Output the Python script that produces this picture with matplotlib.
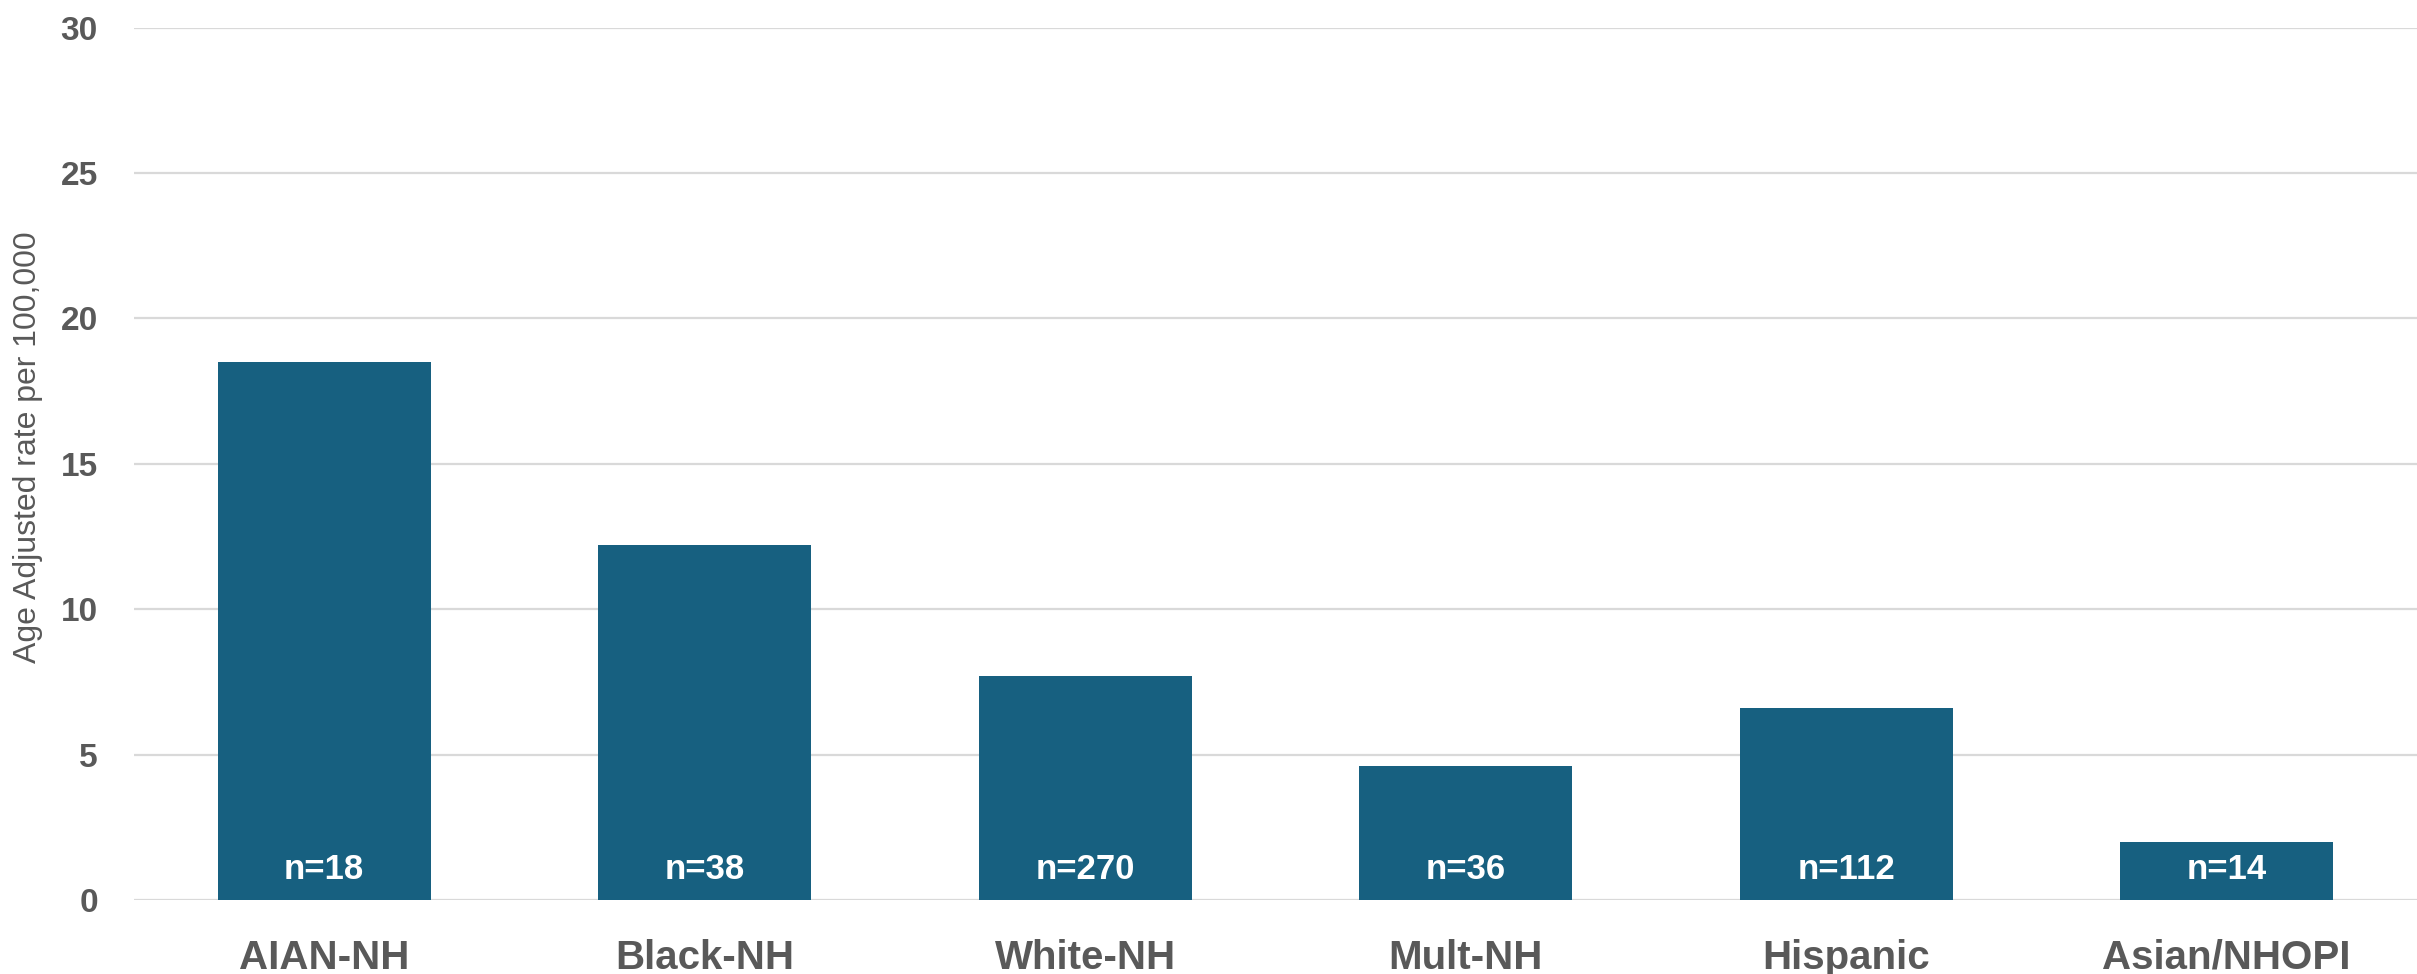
import numpy as np
import matplotlib.pyplot as plt

# data
groups = ["AIAN-NH", "Black-NH", "White-NH", "Mult-NH", "Hispanic", "Asian/NHOPI"]
rates = [18.5, 12.2, 7.7, 4.6, 6.6, 2.0]
counts = [18, 38, 270, 36, 112, 14]
yticks = [0, 5, 10, 15, 20, 25, 30]

bar_color = "#176080"
text_grey = "#595959"
grid_grey = "#d9d9d9"

plt.rcParams["font.family"] = ["Liberation Sans", "DejaVu Sans"]

fig = plt.figure(figsize=(24.17, 9.74), dpi=100)
ax = fig.add_axes([0.0554, 0.076, 0.9446, 0.8956])

x = np.arange(len(groups))
ax.bar(x, rates, width=0.56, color=bar_color, zorder=3)

# sample sizes inside the bars
for xi, n in zip(x, counts):
    ax.annotate(f"n={n}", xy=(xi, 0), xytext=(0, 21), textcoords="offset pixels",
                ha="center", va="baseline", color="white", fontsize=25,
                fontweight="bold", zorder=4)

ax.set_xlim(-0.5, len(groups) - 0.5)
ax.set_ylim(0, 30)
ax.set_yticks(yticks)
ax.set_xticks(x)
ax.set_xticklabels(groups)

ax.yaxis.grid(True, color=grid_grey, linewidth=1.6, zorder=0)
ax.set_axisbelow(True)
for s in ax.spines.values():
    s.set_visible(False)

ax.tick_params(axis="y", length=0, pad=26, labelsize=24, labelcolor=text_grey)
ax.tick_params(axis="x", length=0, pad=28, labelsize=29, labelcolor=text_grey)
for lab in ax.get_xticklabels() + ax.get_yticklabels():
    lab.set_fontweight("bold")

ax.set_ylabel("Age Adjusted rate per 100,000", fontsize=23, color=text_grey, va="center")
ax.yaxis.set_label_coords(-0.0464, 0.519)

fig.savefig("out.png", dpi=100)
